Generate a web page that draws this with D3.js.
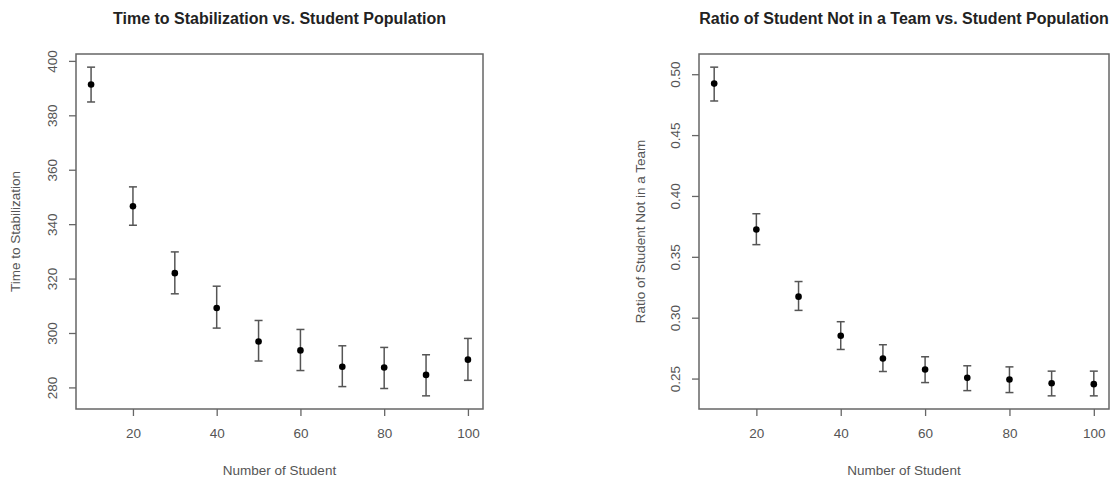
<!DOCTYPE html>
<head>
  <meta charset="utf-8">
  <style>
    body { margin: 0; background: #fff; }
    text { font-family: 'Liberation Sans', Arial, sans-serif; }
    .tick text { fill: #555; font-size: 13.5px; }
    .tick line { stroke: #666; stroke-width: 1.3; }
    .axis-title { fill: #555; font-size: 13.5px; }
    .chart-title { fill: #222; font-size: 16px; font-weight: bold; }
  </style>
</head>
<body>
  <script src="https://cdn.jsdelivr.net/npm/d3@7"></script>
  <script>
    // data
    const students = [10, 20, 30, 40, 50, 60, 70, 80, 90, 100];
    const timeMean = [391.3, 346.6, 322.0, 309.2, 296.9, 293.6, 287.6, 287.3, 284.6, 290.2];
    const timeLow  = [384.9, 339.6, 314.4, 301.8, 289.7, 286.2, 280.3, 279.6, 276.9, 282.6];
    const timeHigh = [397.7, 353.7, 329.8, 317.2, 304.6, 301.3, 295.3, 294.7, 292.0, 298.0];
    const ratioMean = [0.4923, 0.3725, 0.3173, 0.2852, 0.2665, 0.2574, 0.2506, 0.2492, 0.2462, 0.2454];
    const ratioLow  = [0.4780, 0.3600, 0.3060, 0.2739, 0.2558, 0.2467, 0.2401, 0.2385, 0.2358, 0.2358];
    const ratioHigh = [0.5058, 0.3854, 0.3297, 0.2967, 0.2778, 0.2679, 0.2605, 0.2596, 0.2561, 0.2561];
    const xTicks = [20, 40, 60, 80, 100];
    const timeTicks = [280, 300, 320, 340, 360, 380, 400];
    const ratioTicks = [0.25, 0.30, 0.35, 0.40, 0.45, 0.50];

    const width = 1114, height = 479;
    const svg = d3.select("body").append("svg")
      .attr("width", width)
      .attr("height", height);

    // R style: pad the data range by 4% on each side
    function padded(lo, hi) {
      const d = (hi - lo) * 0.04;
      return [lo - d, hi + d];
    }

    function drawPanel(opts) {
      const box = opts.box;
      const x = d3.scaleLinear().domain(padded(d3.min(students), d3.max(students))).range([box.left, box.right]);
      const y = d3.scaleLinear().domain(padded(d3.min(opts.low), d3.max(opts.high))).range([box.bottom, box.top]);

      const g = svg.append("g");

      // x axis
      const xa = g.append("g")
        .attr("transform", "translate(0," + box.bottom + ")")
        .call(d3.axisBottom(x).tickValues(xTicks).tickSize(7).tickPadding(10).tickFormat(d3.format("d")));
      xa.select(".domain").remove();
      xa.selectAll(".tick text").attr("dy", "0.9em");

      // y axis with labels turned like R does
      const ya = g.append("g")
        .attr("transform", "translate(" + box.left + ",0)")
        .call(d3.axisLeft(y).tickValues(opts.yTicks).tickSize(7).tickFormat(opts.fmt));
      ya.select(".domain").remove();
      ya.selectAll(".tick text")
        .attr("x", null).attr("dy", null)
        .attr("text-anchor", "middle")
        .attr("transform", "translate(" + (-19) + ",0) rotate(-90)");

      // frame
      g.append("rect")
        .attr("x", box.left).attr("y", box.top)
        .attr("width", box.right - box.left).attr("height", box.bottom - box.top)
        .attr("fill", "none").attr("stroke", "#666").attr("stroke-width", 1.5);

      // error bars
      const bars = g.append("g").attr("stroke", "#555").attr("stroke-width", 1.5).attr("fill", "none");
      students.forEach((s, i) => {
        const cx = x(s);
        bars.append("line").attr("x1", cx).attr("x2", cx).attr("y1", y(opts.low[i])).attr("y2", y(opts.high[i]));
        bars.append("line").attr("x1", cx - 4).attr("x2", cx + 4).attr("y1", y(opts.low[i])).attr("y2", y(opts.low[i]));
        bars.append("line").attr("x1", cx - 4).attr("x2", cx + 4).attr("y1", y(opts.high[i])).attr("y2", y(opts.high[i]));
      });

      g.append("g").selectAll("circle").data(students).enter().append("circle")
        .attr("cx", d => x(d))
        .attr("cy", (d, i) => y(opts.mean[i]))
        .attr("r", 3.3)
        .attr("fill", "#000");

      // titles
      const midX = (box.left + box.right) / 2;
      g.append("text").attr("class", "chart-title")
        .attr("x", midX).attr("y", 24).attr("text-anchor", "middle")
        .text(opts.title);
      g.append("text").attr("class", "axis-title")
        .attr("x", midX).attr("y", 475).attr("text-anchor", "middle")
        .text("Number of Student");
      g.append("text").attr("class", "axis-title")
        .attr("text-anchor", "middle")
        .attr("transform", "translate(" + opts.ylabX + "," + ((box.top + box.bottom) / 2) + ") rotate(-90)")
        .text(opts.ylab);
    }

    drawPanel({
      box: {left: 76, right: 483, top: 54, bottom: 409},
      mean: timeMean, low: timeLow, high: timeHigh,
      yTicks: timeTicks, fmt: d3.format("d"),
      title: "Time to Stabilization vs. Student Population",
      ylab: "Time to Stabilization", ylabX: 20
    });

    drawPanel({
      box: {left: 699, right: 1109, top: 54, bottom: 409},
      mean: ratioMean, low: ratioLow, high: ratioHigh,
      yTicks: ratioTicks, fmt: d3.format(".2f"),
      title: "Ratio of Student Not in a Team vs. Student Population",
      ylab: "Ratio of Student Not in a Team", ylabX: 645
    });
  </script>
</body>
